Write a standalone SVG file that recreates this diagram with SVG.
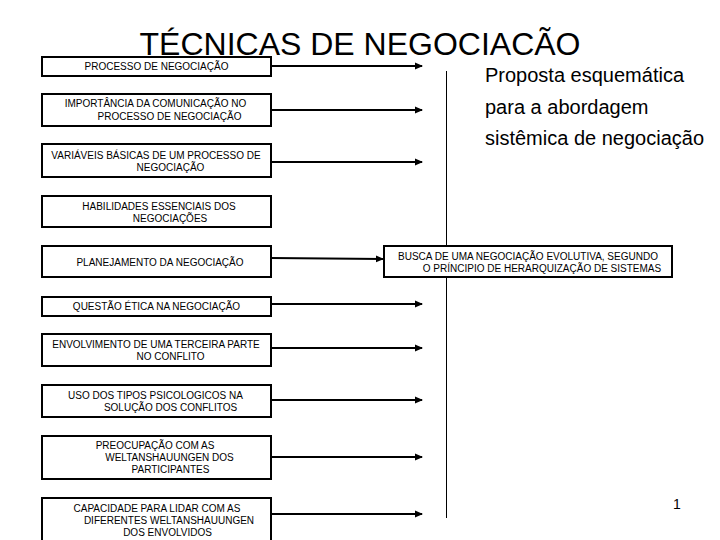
<svg xmlns="http://www.w3.org/2000/svg" width="720" height="540" viewBox="0 0 720 540">
<style>
.box{fill:#fff;stroke:#000;stroke-width:2}
.t{font-family:"Liberation Sans",Arial,sans-serif;font-size:10px;fill:#000;text-anchor:middle}
.c{stroke:#000;stroke-width:2;fill:none}
</style>
<defs>
<marker id="ah" markerWidth="4" markerHeight="4" refX="3.5" refY="2" orient="auto" markerUnits="strokeWidth">
<path d="M0,0.3 L4,2 L0,3.7 Z" fill="#000"/>
</marker>
</defs>
<rect width="720" height="540" fill="#fff"/>
<text x="360" y="55" style="font-family:'Liberation Sans',Arial,sans-serif;font-size:32px;text-anchor:middle">TÉCNICAS DE NEGOCIACÃO</text>
<g id="subtitle" style="font-family:'Liberation Sans',Arial,sans-serif;font-size:20px">
<text x="485" y="82">Proposta esquemática</text>
<text x="485" y="114">para a abordagem</text>
<text x="485" y="145">sistêmica de negociação</text>
</g>
<g id="connectors">
<line x1="446.5" y1="71" x2="446.5" y2="518" stroke="#000" stroke-width="1"/>
<line class="c" x1="271" y1="66" x2="422" y2="66" marker-end="url(#ah)"/>
<line class="c" x1="271" y1="110" x2="422" y2="110" marker-end="url(#ah)"/>
<line class="c" x1="271" y1="162" x2="422" y2="162" marker-end="url(#ah)"/>
<line class="c" x1="271" y1="258" x2="383" y2="259" marker-end="url(#ah)"/>
<line class="c" x1="271" y1="304" x2="422" y2="304" marker-end="url(#ah)"/>
<line class="c" x1="271" y1="348" x2="422" y2="348" marker-end="url(#ah)"/>
<line class="c" x1="271" y1="400" x2="422" y2="400" marker-end="url(#ah)"/>
<line class="c" x1="271" y1="457" x2="422" y2="457" marker-end="url(#ah)"/>
<line class="c" x1="271" y1="514" x2="422" y2="514" marker-end="url(#ah)"/>
</g>
<g id="n1"><rect class="box" x="42" y="57" width="229" height="19"/>
<text class="t" x="156.5" y="70">PROCESSO DE NEGOCIAÇÃO</text></g>
<g id="n2"><rect class="box" x="42" y="94" width="229" height="32"/>
<text class="t" x="155.5" y="107">IMPORTÂNCIA DA COMUNICAÇÃO NO</text>
<text class="t" x="169.5" y="120">PROCESSO DE NEGOCIAÇÃO</text></g>
<g id="n3"><rect class="box" x="42" y="144" width="229" height="33"/>
<text class="t" x="156" y="159">VARIÁVEIS BÁSICAS DE UM PROCESSO DE</text>
<text class="t" x="170.5" y="171">NEGOCIAÇÃO</text></g>
<g id="n4"><rect class="box" x="42" y="196" width="229" height="31"/>
<text class="t" x="159" y="210">HABILIDADES ESSENCIAIS DOS</text>
<text class="t" x="170" y="222">NEGOCIAÇÕES</text></g>
<g id="n5"><rect class="box" x="42" y="246" width="229" height="31"/>
<text class="t" x="160" y="266">PLANEJAMENTO DA NEGOCIAÇÃO</text></g>
<g id="n6"><rect class="box" x="42" y="297" width="229" height="19"/>
<text class="t" x="156.5" y="310">QUESTÃO ÉTICA NA NEGOCIAÇÃO</text></g>
<g id="n7"><rect class="box" x="42" y="334" width="229" height="32"/>
<text class="t" x="156" y="348">ENVOLVIMENTO DE UMA TERCEIRA PARTE</text>
<text class="t" x="170.5" y="360">NO CONFLITO</text></g>
<g id="n8"><rect class="box" x="42" y="385" width="229" height="32"/>
<text class="t" x="155.5" y="399">USO DOS TIPOS PSICOLOGICOS NA</text>
<text class="t" x="170.5" y="411">SOLUÇÃO DOS CONFLITOS</text></g>
<g id="n9"><rect class="box" x="42" y="436" width="229" height="43"/>
<text class="t" x="155" y="449">PREOCUPAÇÃO COM AS</text>
<text class="t" x="169.5" y="461">WELTANSHAUUNGEN DOS</text>
<text class="t" x="170.5" y="473">PARTICIPANTES</text></g>
<g id="n10"><rect class="box" x="42" y="498" width="229" height="50"/>
<text class="t" x="157" y="512">CAPACIDADE PARA LIDAR COM AS</text>
<text class="t" x="169" y="524">DIFERENTES WELTANSHAUUNGEN</text>
<text class="t" x="167.5" y="536">DOS ENVOLVIDOS</text></g>
<g id="n11"><rect class="box" x="384" y="246" width="288" height="31"/>
<text class="t" x="528" y="260">BUSCA DE UMA NEGOCIAÇÃO EVOLUTIVA, SEGUNDO</text>
<text class="t" x="542" y="272">O PRÍNCIPIO DE HERARQUIZAÇÃO DE SISTEMAS</text></g>
<text x="673" y="509" style="font-family:'Liberation Sans',Arial,sans-serif;font-size:14px">1</text>
</svg>
